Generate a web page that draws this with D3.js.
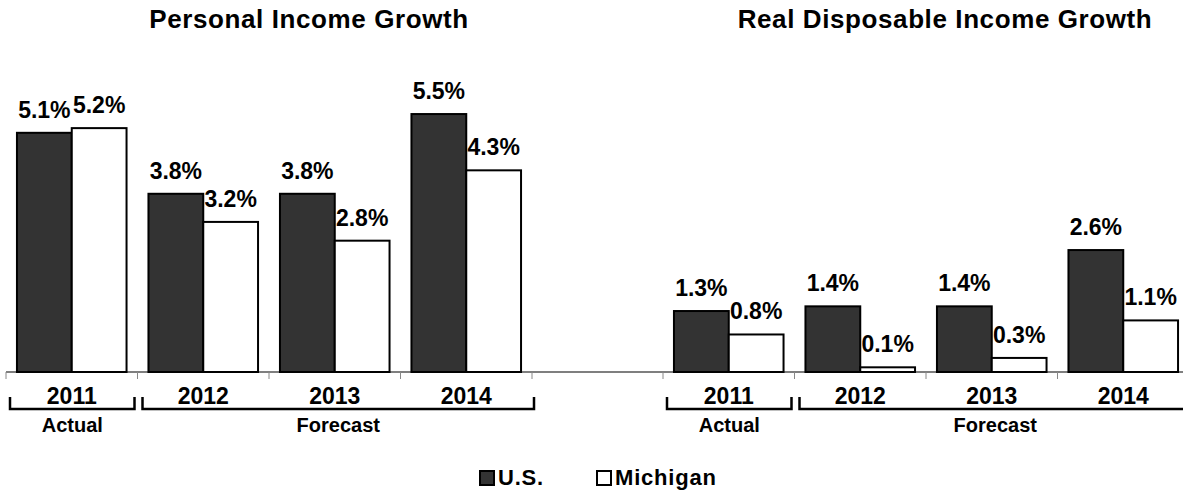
<!DOCTYPE html>
<html>
<head>
<meta charset="utf-8">
<script src="https://cdn.jsdelivr.net/npm/d3@7"></script>
<style>
  body { margin: 0; background: #fff; }
  text { font-family: "Liberation Sans", Arial, sans-serif; font-weight: bold; fill: #000; }
</style>
</head>
<body>
<script>
// data
var years = ['2011', '2012', '2013', '2014'];
var seriesNames = ['U.S.', 'Michigan'];
var personalUS = [5.1, 3.8, 3.8, 5.5];
var personalMI = [5.2, 3.2, 2.8, 4.3];
var realUS = [1.3, 1.4, 1.4, 2.6];
var realMI = [0.8, 0.1, 0.3, 1.1];
var titles = ['Personal Income Growth', 'Real Disposable Income Growth'];
var periodLabels = ['Actual', 'Forecast'];

var width = 1183, height = 490;
var baseline = 372;
var colors = ['#333333', '#ffffff'];

var svg = d3.select('body').append('svg')
    .attr('width', width)
    .attr('height', height);

// shared value scale
var yscale = d3.scaleLinear()
    .domain([0, 6])
    .range([baseline, baseline - 6 * 46.9]);

// one continuous axis line across both panels
svg.append('line')
  .attr('x1', 6).attr('x2', width)
  .attr('y1', baseline).attr('y2', baseline)
  .attr('stroke', '#000')
  .attr('stroke-width', 1.2);

function drawPanel(x0, x1, titleX, title, us, mi) {
  var xscale = d3.scaleBand()
      .domain(years)
      .range([x0, x1]);
  var bw = xscale.bandwidth();
  var inner = d3.scaleBand()
      .domain(seriesNames)
      .range([0, bw])
      .paddingOuter(0.2);

  var rows = years.map(function(y, i) {
    return [{ year: y, s: 0, v: us[i] }, { year: y, s: 1, v: mi[i] }];
  });
  var flat = [].concat.apply([], rows);

  var g = svg.append('g');

  // tick marks at band boundaries
  var bounds = years.map(function(y) { return xscale(y); }).concat([x1]);
  g.selectAll('line.tick')
    .data(bounds)
    .enter().append('line')
      .attr('class', 'tick')
      .attr('x1', d => d).attr('x2', d => d)
      .attr('y1', baseline).attr('y2', baseline + 7)
      .attr('stroke', '#888')
      .attr('stroke-width', 1);

  g.selectAll('rect.bar')
    .data(flat)
    .enter().append('rect')
      .attr('class', 'bar')
      .attr('x', d => xscale(d.year) + inner(seriesNames[d.s]))
      .attr('y', d => yscale(d.v))
      .attr('width', inner.bandwidth())
      .attr('height', d => yscale(0) - yscale(d.v))
      .attr('fill', d => colors[d.s])
      .attr('stroke', '#000')
      .attr('stroke-width', 2);

  g.selectAll('text.val')
    .data(flat)
    .enter().append('text')
      .attr('class', 'val')
      .attr('x', d => xscale(d.year) + inner(seriesNames[d.s]) + inner.bandwidth() / 2)
      .attr('y', d => yscale(d.v) - 15)
      .attr('text-anchor', 'middle')
      .style('font-size', '23px')
      .text(d => d.v.toFixed(1) + '%');

  g.selectAll('text.year')
    .data(years)
    .enter().append('text')
      .attr('class', 'year')
      .attr('x', d => xscale(d) + bw / 2)
      .attr('y', 404)
      .attr('text-anchor', 'middle')
      .style('font-size', '23px')
      .text(d => d);

  // brackets for actual / forecast
  var brackets = [
    { label: periodLabels[0], a: xscale(years[0]) + 4, b: xscale(years[0]) + bw - 3 },
    { label: periodLabels[1], a: xscale(years[1]) + 5, b: xscale(years[3]) + bw + 2 }
  ];
  g.selectAll('path.bracket')
    .data(brackets)
    .enter().append('path')
      .attr('class', 'bracket')
      .attr('d', d => 'M' + d.a + ',397V409H' + d.b + 'V397')
      .attr('fill', 'none')
      .attr('stroke', '#000')
      .attr('stroke-width', 2.5);

  g.selectAll('text.period')
    .data(brackets)
    .enter().append('text')
      .attr('class', 'period')
      .attr('x', d => (d.a + d.b) / 2)
      .attr('y', 432)
      .attr('text-anchor', 'middle')
      .style('font-size', '20px')
      .text(d => d.label);

  g.append('text')
    .attr('x', titleX)
    .attr('y', 28)
    .attr('text-anchor', 'middle')
    .style('font-size', '26px')
    .style('letter-spacing', '0.6px')
    .text(title);
}

drawPanel(6, 532, 309, titles[0], personalUS, personalMI);
drawPanel(663, 1189, 945, titles[1], realUS, realMI);

// legend
var legendX = [480, 597];
var legend = svg.selectAll('g.legend')
    .data(seriesNames)
    .enter().append('g')
      .attr('class', 'legend')
      .attr('transform', (d, i) => 'translate(' + legendX[i] + ',471)');
legend.append('rect')
  .attr('width', 14).attr('height', 14)
  .attr('fill', (d, i) => colors[i])
  .attr('stroke', '#000')
  .attr('stroke-width', 2);
legend.append('text')
  .attr('x', 18)
  .attr('y', 14)
  .style('font-size', '22px')
  .style('letter-spacing', '0.8px')
  .text(d => d);
</script>
</body>
</html>
